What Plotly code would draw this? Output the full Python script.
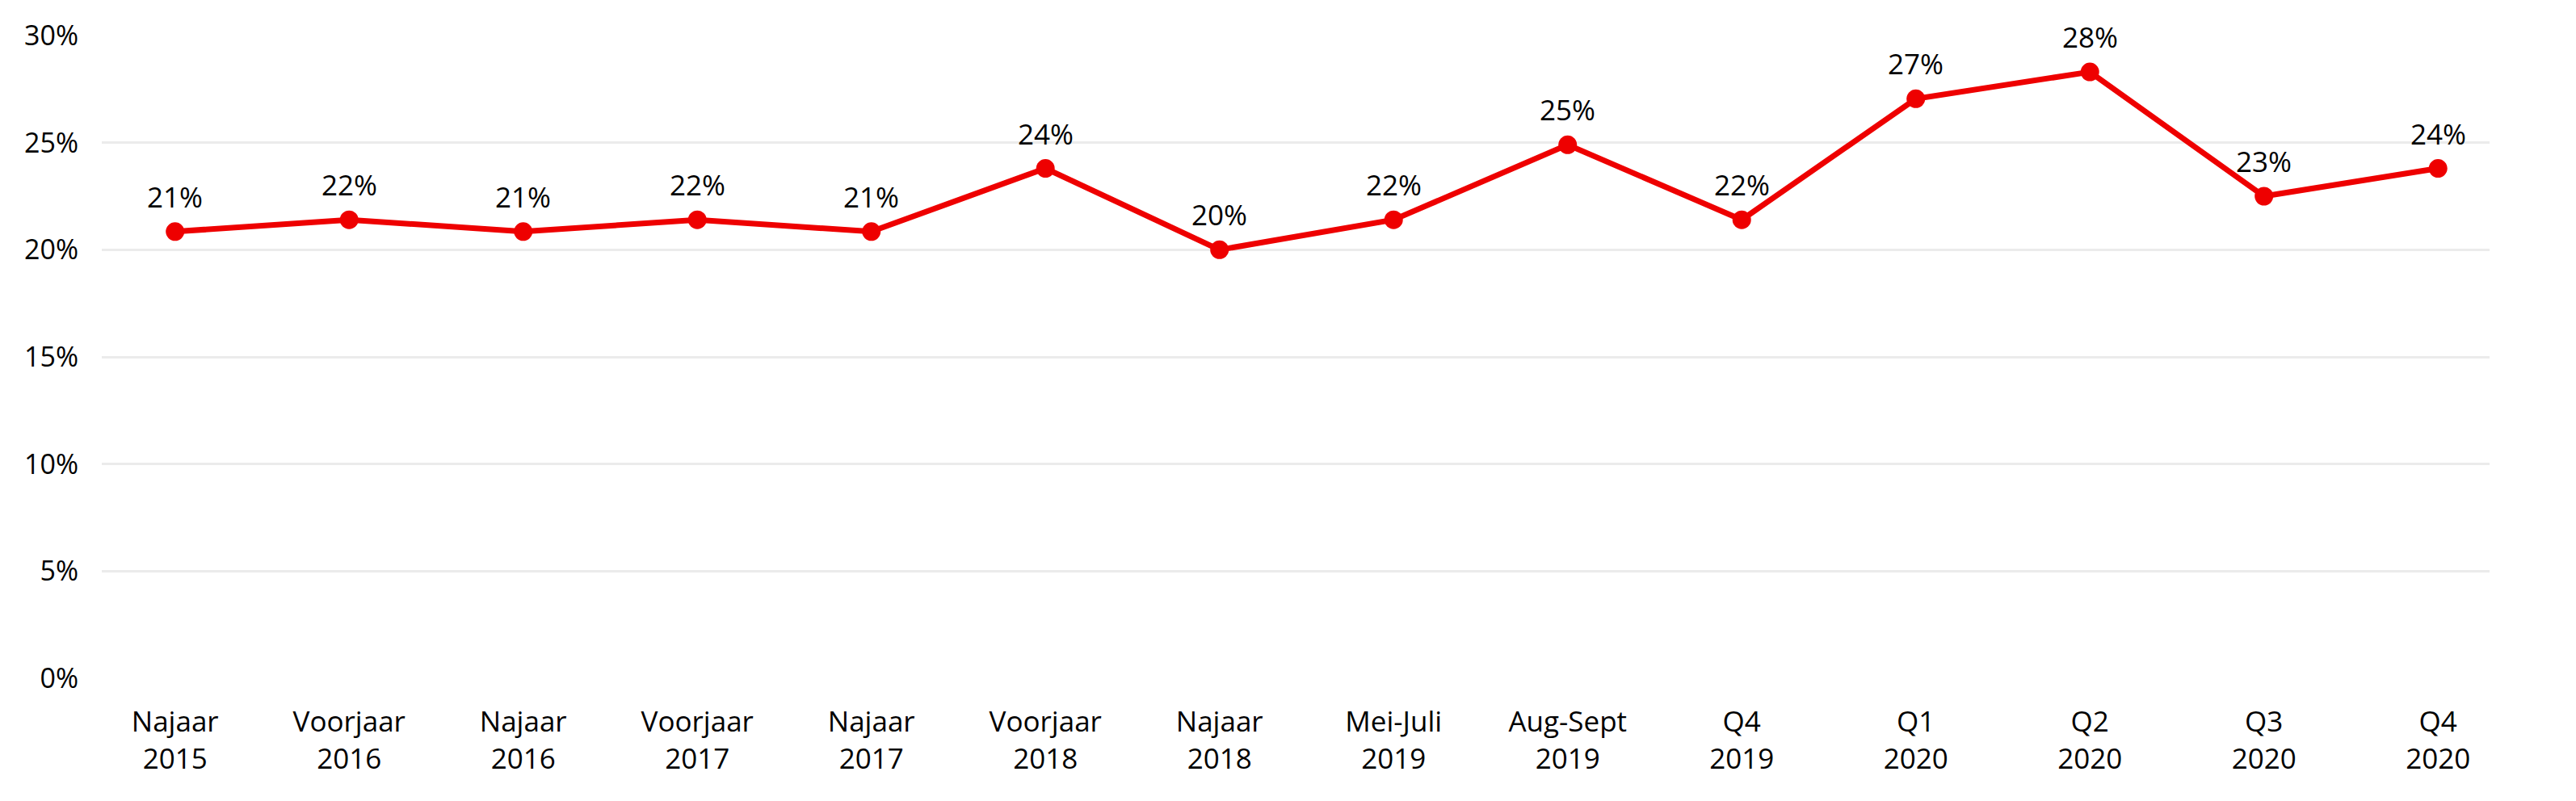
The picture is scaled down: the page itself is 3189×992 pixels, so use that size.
import plotly.graph_objects as go

categories = ["Najaar 2015", "Voorjaar 2016", "Najaar 2016", "Voorjaar 2017", "Najaar 2017",
              "Voorjaar 2018", "Najaar 2018", "Mei-Juli 2019", "Aug-Sept 2019", "Q4 2019",
              "Q1 2020", "Q2 2020", "Q3 2020", "Q4 2020"]
tick_labels = ["Najaar<br>2015", "Voorjaar<br>2016", "Najaar<br>2016", "Voorjaar<br>2017", "Najaar<br>2017",
               "Voorjaar<br>2018", "Najaar<br>2018", "Mei-Juli<br>2019", "Aug-Sept<br>2019", "Q4<br>2019",
               "Q1<br>2020", "Q2<br>2020", "Q3<br>2020", "Q4<br>2020"]
values = [20.85, 21.4, 20.85, 21.4, 20.85, 23.8, 20.0, 21.4, 24.9, 21.4, 27.05, 28.3, 22.5, 23.8]
value_labels = ["21%", "22%", "21%", "22%", "21%", "24%", "20%", "22%", "25%", "22%",
                "27%", "28%", "23%", "24%"]
y_ticks = [0, 5, 10, 15, 20, 25, 30]
y_tick_labels = ["0%", "5%", "10%", "15%", "20%", "25%", "30%"]

FONT = "Open Sans"
RED = "#EE0000"

fig = go.Figure()
fig.add_trace(go.Scatter(
    x=categories, y=values, mode="lines+markers",
    line=dict(color=RED, width=7),
    marker=dict(color=RED, size=23),
    cliponaxis=False, showlegend=False,
))

annotations = [
    dict(x=c, y=v, text=t, showarrow=False, xref="x", yref="y",
         yanchor="bottom", yshift=18,
         font=dict(family=FONT, size=35, color="#000000"))
    for c, v, t in zip(categories, values, value_labels)
]

fig.update_layout(
    width=3189, height=992,
    margin=dict(l=126, r=107, t=44, b=152),
    paper_bgcolor="white", plot_bgcolor="white",
    font=dict(family=FONT, size=35, color="#000000"),
    annotations=annotations,
    xaxis=dict(
        type="category", tickmode="array", tickvals=categories, ticktext=tick_labels,
        range=[-0.421, 13.296], showgrid=False, zeroline=False, showline=False,
        ticks="", ticklabelstandoff=30,
        tickfont=dict(family=FONT, size=35, color="#000000"),
    ),
    yaxis=dict(
        range=[0, 30], tickmode="array", tickvals=y_ticks, ticktext=y_tick_labels,
        showgrid=True, gridcolor="#EBEBEB", gridwidth=3, zeroline=False, showline=False,
        ticks="", ticklabelstandoff=28,
        tickfont=dict(family=FONT, size=34, color="#000000"),
    ),
)

fig.write_html("out.html", config={"displayModeBar": False},
               post_script="document.body.style.margin='0';")
